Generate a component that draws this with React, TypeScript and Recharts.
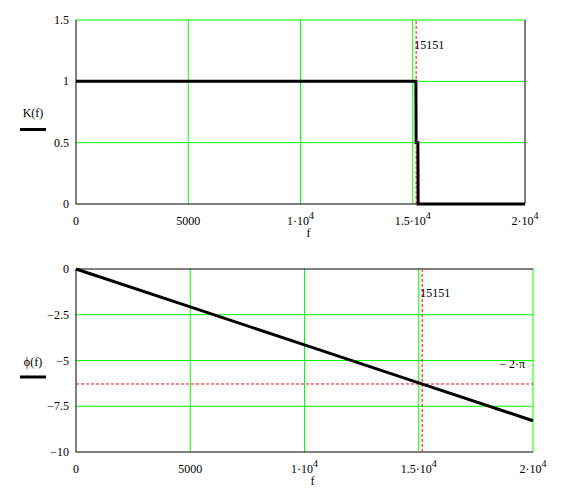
import React from 'react';
import { LineChart, Line, XAxis, YAxis, ReferenceLine } from 'recharts';

// top plot: magnitude K(f)
const kFreq = [0, 15140, 15150, 15230, 15240, 20000];
const kValue = [1, 1, 0.5, 0.5, 0, 0];

// bottom plot: phase phi(f)
const phiFreq = [0, 5000, 10000, 15000, 20000];
const phiValue = [0, -2.07, -4.15, -6.22, -8.29];

const xTicks = [0, 5000, 10000, 15000, 20000];
const xTickText = [['0', ''], ['5000', ''], ['1·10', '4'], ['1.5·10', '4'], ['2·10', '4']];
const kTicks = [0, 0.5, 1, 1.5];
const kTickText = ['0', '0.5', '1', '1.5'];
const phiTicks = [0, -2.5, -5, -7.5, -10];
const phiTickText = ['0', '−2.5', '−5', '−7.5', '−10'];

const cutoff = 15151;
const cutoffText = '15151';
const minusTwoPi = -6.283;
const minusTwoPiText = '− 2·π';

const kData = kFreq.map((f, i) => ({ f, k: kValue[i] }));
const phiData = phiFreq.map((f, i) => ({ f, phi: phiValue[i] }));

const FONT = '"Liberation Serif", "Times New Roman", serif';
const GREEN = '#00ff00';
const RED = '#ff0000';

const XTick = (props: any) => {
  const { x, y, payload } = props;
  const idx = xTicks.indexOf(payload.value);
  const [main, sup] = xTickText[idx] || [String(payload.value), ''];
  return (
    <text x={x} y={y + 21} textAnchor="middle" fontFamily={FONT} fontSize={12} fill="#000">
      <tspan>{main}</tspan>
      {sup && <tspan dy={-6} fontSize={10}>{sup}</tspan>}
    </text>
  );
};

const makeYTick = (ticks: number[], labels: string[]) => (props: any) => {
  const { x, y, payload } = props;
  const idx = ticks.indexOf(payload.value);
  return (
    <text x={x - 7} y={y + 4} textAnchor="end" fontFamily={FONT} fontSize={12} fill="#000">
      {labels[idx]}
    </text>
  );
};

const yLabel = (text: string, textDy: number, barDy: number) => (props: any) => {
  const vb = props.viewBox;
  const mid = vb.y + vb.height / 2;
  return (
    <g>
      <text x={33} y={mid + textDy} textAnchor="middle" fontFamily={FONT} fontSize={12} fill="#000">
        {text}
      </text>
      <rect x={20} y={mid + barDy} width={26} height={3} fill="#000" />
    </g>
  );
};

const xLabel = (props: any) => {
  const vb = props.viewBox;
  return (
    <text x={vb.x + vb.width / 2 + 8} y={vb.y + 33} textAnchor="middle" fontFamily={FONT} fontSize={12} fill="#000">
      f
    </text>
  );
};

const App: React.FC = () => {
  return (
    <div style={{ position: 'absolute', left: 0, top: 0, width: 567, height: 489, background: '#fff' }}>
      <div style={{ position: 'absolute', left: 0, top: 0 }}>
        <LineChart width={567} height={250} data={kData} margin={{ top: 20, right: 42, bottom: 16, left: 0 }}>
          <XAxis
            dataKey="f"
            type="number"
            domain={[0, 20000]}
            ticks={xTicks}
            interval={0}
            tickLine={false}
            tickSize={0}
            tickMargin={0}
            height={30}
            axisLine={false}
            tick={<XTick />}
            label={xLabel}
          />
          <YAxis
            type="number"
            domain={[0, 1.5]}
            ticks={kTicks}
            interval={0}
            tickLine={false}
            tickSize={0}
            tickMargin={0}
            width={76}
            axisLine={false}
            tick={makeYTick(kTicks, kTickText)}
            label={yLabel('K(f)', 5, 16)}
          />
          {[5000, 10000, 15000].map((v) => (
            <ReferenceLine key={'kx' + v} x={v} stroke={GREEN} strokeWidth={1} />
          ))}
          {[0.5, 1, 1.5].map((v) => (
            <ReferenceLine key={'ky' + v} y={v} stroke={GREEN} strokeWidth={1} />
          ))}
          <ReferenceLine x={0} stroke="#000" strokeWidth={1} />
          <ReferenceLine y={0} stroke="#000" strokeWidth={1} />
          <ReferenceLine x={20000} stroke="#000" strokeWidth={1} />
          <ReferenceLine
            x={cutoff}
            stroke={RED}
            strokeDasharray="3 2"
            label={(p: any) => (
              <text x={p.viewBox.x - 2} y={p.viewBox.y + 29} fontFamily={FONT} fontSize={12} fill="#000">
                {cutoffText}
              </text>
            )}
          />
          <Line
            type="linear"
            dataKey="k"
            stroke="#000"
            strokeWidth={3}
            dot={false}
            activeDot={false}
            isAnimationActive={false}
          />
        </LineChart>
      </div>
      <div style={{ position: 'absolute', left: 0, top: 250 }}>
        <LineChart width={567} height={239} data={phiData} margin={{ top: 19, right: 34, bottom: 7, left: 0 }}>
          <XAxis
            dataKey="f"
            type="number"
            domain={[0, 20000]}
            ticks={xTicks}
            interval={0}
            tickLine={false}
            tickSize={0}
            tickMargin={0}
            height={30}
            axisLine={false}
            tick={<XTick />}
            label={xLabel}
          />
          <YAxis
            type="number"
            domain={[-10, 0]}
            ticks={phiTicks}
            interval={0}
            tickLine={false}
            tickSize={0}
            tickMargin={0}
            width={76}
            axisLine={false}
            tick={makeYTick(phiTicks, phiTickText)}
            label={yLabel('ϕ(f)', 5, 15)}
          />
          {[5000, 10000, 15000, 20000].map((v) => (
            <ReferenceLine key={'px' + v} x={v} stroke={GREEN} strokeWidth={1} />
          ))}
          {[-2.5, -5, -7.5].map((v) => (
            <ReferenceLine key={'py' + v} y={v} stroke={GREEN} strokeWidth={1} />
          ))}
          <ReferenceLine x={0} stroke="#000" strokeWidth={1} />
          <ReferenceLine y={-10} stroke="#000" strokeWidth={1} />
          <ReferenceLine y={0} stroke="#000" strokeWidth={1} />
          <ReferenceLine
            x={cutoff}
            stroke={RED}
            strokeDasharray="3 2"
            label={(p: any) => (
              <text x={p.viewBox.x - 2} y={p.viewBox.y + 28} fontFamily={FONT} fontSize={12} fill="#000">
                {cutoffText}
              </text>
            )}
          />
          <ReferenceLine
            y={minusTwoPi}
            stroke={RED}
            strokeDasharray="3 2"
            label={(p: any) => (
              <text
                x={p.viewBox.x + p.viewBox.width - 8}
                y={p.viewBox.y - 16}
                textAnchor="end"
                fontFamily={FONT}
                fontSize={12}
                fill="#000"
              >
                {minusTwoPiText}
              </text>
            )}
          />
          <Line
            type="linear"
            dataKey="phi"
            stroke="#000"
            strokeWidth={3}
            dot={false}
            activeDot={false}
            isAnimationActive={false}
          />
        </LineChart>
      </div>
    </div>
  );
};

export default App;
